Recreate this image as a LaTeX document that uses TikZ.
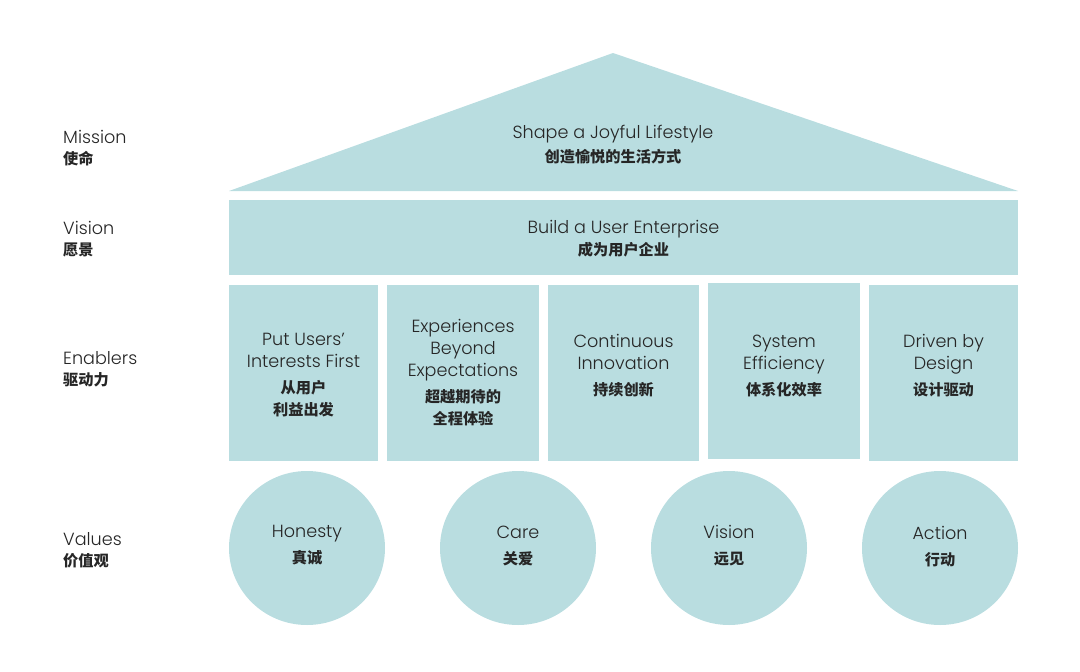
\documentclass[tikz,border=0pt]{standalone}
\usepackage{fontspec}
\setmainfont{Poppins}[UprightFont=* Light, BoldFont=* Medium]
\newfontfamily\cjk{Noto Sans CJK SC}
\usetikzlibrary{shapes.geometric}
\definecolor{tealfill}{RGB}{185,221,224}
\definecolor{txt}{RGB}{38,38,38}
\tikzset{
  en/.style={font=\fontsize{17.6}{22}\selectfont, text=txt, align=center, inner sep=0pt},
  lab/.style={font=\fontsize{17.6}{21}\selectfont, text=txt, align=left, anchor=west, inner sep=0pt},
  block/.style={fill=tealfill, draw=none, rectangle, inner sep=0pt},
  valc/.style={fill=tealfill, draw=none, ellipse, inner sep=0pt, minimum width=156pt, minimum height=154pt},
}
\newcommand{\zh}[1]{{\cjk\bfseries\fontsize{15.2}{21}\selectfont #1}}
\begin{document}
\begin{tikzpicture}[x=1pt,y=-1pt]
\useasboundingbox (0,0) rectangle (1080,672);
% left labels
\node[lab] (lmission) at (63,148) {Mission\\\zh{使命}};
\node[lab] (lvision) at (63,239) {Vision\\\zh{愿景}};
\node[lab] (lenablers) at (63,369) {Enablers\\\zh{驱动力}};
\node[lab] (lvalues) at (63,550) {Values\\\zh{价值观}};
% roof
\fill[tealfill] (229,191) -- (613,53) -- (1018,191) -- cycle;
\node[en] (mission) at (613,145) {Shape a Joyful Lifestyle\\[2pt]\zh{创造愉悦的生活方式}};
% vision band
\node[block, minimum width=789pt, minimum height=75pt] (vision) at (623.5,237.5) {};
\node[en, yshift=-1pt] (visiontxt) at (vision) {Build a User Enterprise\\[0pt]\zh{成为用户企业}};
% enablers
\node[block, minimum width=149pt, minimum height=176pt] (e1) at (303.5,373) {};
\node[block, minimum width=152pt, minimum height=176pt] (e2) at (463,373) {};
\node[block, minimum width=151pt, minimum height=176pt] (e3) at (623.5,373) {};
\node[block, minimum width=152pt, minimum height=176pt] (e4) at (784,371) {};
\node[block, minimum width=149pt, minimum height=176pt] (e5) at (943.5,373) {};
\node[en, yshift=-2pt] (e1t) at (e1) {Put Users’\\Interests First\\[4pt]\zh{从用户}\\\zh{利益出发}};
\node[en] (e2t) at (e2) {Experiences\\Beyond\\Expectations\\[4pt]\zh{超越期待的}\\\zh{全程体验}};
\node[en, yshift=7pt] (e3t) at (e3) {Continuous\\Innovation\\[4pt]\zh{持续创新}};
\node[en, yshift=5pt] (e4t) at (e4) {System\\Efficiency\\[4pt]\zh{体系化效率}};
\node[en, yshift=7pt] (e5t) at (e5) {Driven by\\Design\\[4pt]\zh{设计驱动}};
% values
\node[valc] (v1) at (307,548) {};
\node[valc] (v2) at (518,548) {};
\node[valc] (v3) at (729,548) {};
\node[valc] (v4) at (940,548) {};
\node[en] (v1t) at (307,545) {Honesty\\[4pt]\zh{真诚}};
\node[en] (v2t) at (518,546) {Care\\[4pt]\zh{关爱}};
\node[en] (v3t) at (729,546) {Vision\\[4pt]\zh{远见}};
\node[en] (v4t) at (940,547) {Action\\[4pt]\zh{行动}};
\end{tikzpicture}
\end{document}
